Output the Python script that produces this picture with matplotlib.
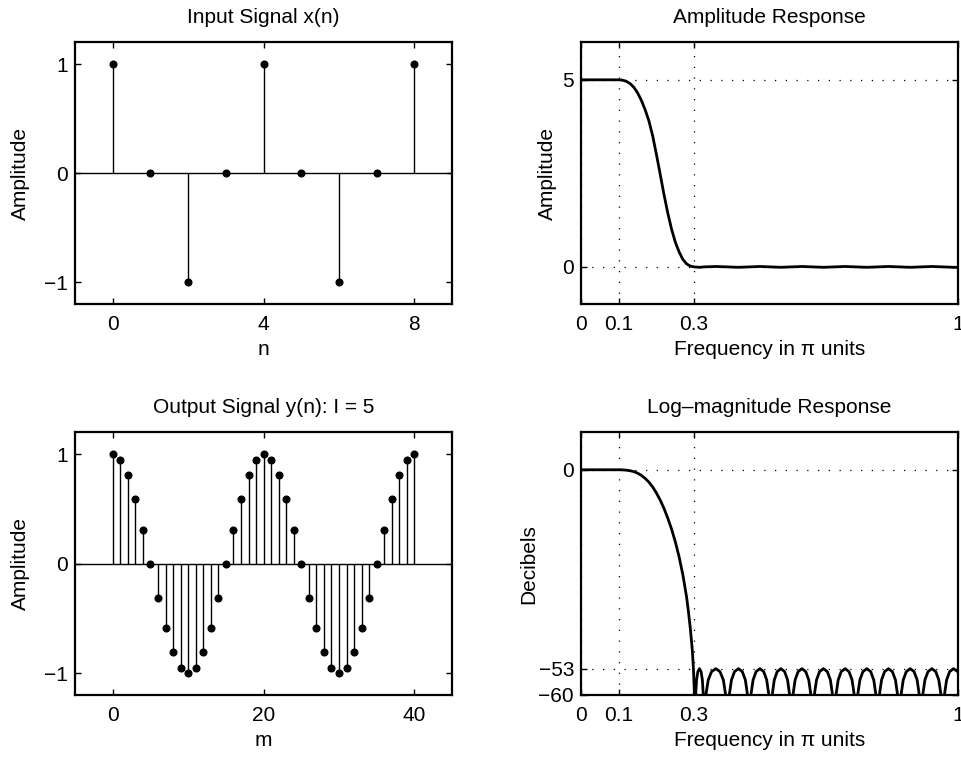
import matplotlib.pyplot as plt

plt.rcParams['font.family'] = ['Liberation Sans', 'DejaVu Sans']
plt.rcParams['font.size'] = 15

# Input signal x(n)
n = list(range(0, 9))
xn = [1, 0, -1, 0, 1, 0, -1, 0, 1]

# Output signal y(m), I = 5
m = list(range(0, 41))
ym = [1, 0.95, 0.81, 0.59, 0.31, 0, -0.31, -0.59, -0.81, -0.95,
      -1, -0.95, -0.81, -0.59, -0.31, 0, 0.31, 0.59, 0.81, 0.95,
      1, 0.95, 0.81, 0.59, 0.31, 0, -0.31, -0.59, -0.81, -0.95,
      -1, -0.95, -0.81, -0.59, -0.31, 0, 0.31, 0.59, 0.81, 0.95, 1]

# Amplitude response
w_amp = [0, 0.05, 0.1, 0.11, 0.12, 0.13, 0.14, 0.15, 0.16, 0.17, 0.18,
         0.19, 0.2, 0.21, 0.22, 0.23, 0.24, 0.25, 0.26, 0.27, 0.28, 0.29,
         0.3, 0.314, 0.326, 0.357, 0.3885, 0.417, 0.446, 0.474, 0.5025,
         0.53, 0.5575, 0.586, 0.614, 0.643, 0.6715, 0.700, 0.729, 0.758,
         0.7865, 0.815, 0.844, 0.873, 0.9015, 0.930, 0.959, 0.988, 1.0]
amp = [5, 5, 5.0, 4.99, 4.96, 4.9, 4.8, 4.65, 4.45, 4.2, 3.9,
       3.5, 3.0, 2.47, 1.93, 1.44, 1.01, 0.66, 0.4, 0.2, 0.08, 0.02,
       0.0, -0.011, 0, 0.011, 0, -0.011, 0, 0.011, 0,
       -0.011, 0, 0.011, 0, -0.011, 0, 0.011, 0, -0.011,
       0, 0.011, 0, -0.011, 0, 0.011, 0, -0.011, -0.01]

# Log-magnitude response in dB (nulls go below the axis)
w_db = [0, 0.05, 0.1, 0.11, 0.12, 0.13, 0.14, 0.15, 0.16, 0.17, 0.18,
        0.19, 0.2, 0.21, 0.22, 0.23, 0.24, 0.25, 0.26, 0.27, 0.28, 0.285,
        0.29, 0.295, 0.298, 0.3, 0.302,
        0.3039, 0.3063, 0.3097, 0.314, 0.3183, 0.3217, 0.3241, 0.326,
        0.331, 0.3373, 0.346, 0.3573, 0.3685, 0.3773, 0.3835, 0.3885,
        0.3931, 0.3989, 0.4069, 0.4173, 0.4276, 0.4357, 0.4414, 0.446,
        0.4505, 0.4562, 0.4641, 0.4743, 0.4844, 0.4923, 0.4980, 0.5025,
        0.5069, 0.5124, 0.5201, 0.5300, 0.5399, 0.5476, 0.5531, 0.5575,
        0.562, 0.5677, 0.5756, 0.5858, 0.5959, 0.6038, 0.6095, 0.614,
        0.6186, 0.6244, 0.6324, 0.6428, 0.6531, 0.6612, 0.6669, 0.6715,
        0.6761, 0.6819, 0.6899, 0.7003, 0.7106, 0.7187, 0.7244, 0.729,
        0.7336, 0.7394, 0.7474, 0.7578, 0.7681, 0.7762, 0.7819, 0.7865,
        0.7911, 0.7969, 0.8049, 0.8153, 0.8256, 0.8337, 0.8394, 0.844,
        0.8486, 0.8544, 0.8624, 0.8728, 0.8831, 0.8912, 0.8969, 0.9015,
        0.9061, 0.9119, 0.9199, 0.9303, 0.9406, 0.9487, 0.9544, 0.959,
        0.9636, 0.9694, 0.9774, 0.9878, 1.0]
db = [0, 0, 0, -0.03, -0.1, -0.25, -0.5, -0.9, -1.5, -2.3, -3.3,
      -4.6, -6.2, -8.1, -10.3, -12.9, -15.8, -19.2, -23.2, -28, -34, -38,
      -42.5, -48, -53, -58, -75,
      -60, -56, -53.8, -53, -53.8, -56, -60, -75,
      -60, -56, -53.8, -53, -53.8, -56, -60, -75,
      -60, -56, -53.8, -53, -53.8, -56, -60, -75,
      -60, -56, -53.8, -53, -53.8, -56, -60, -75,
      -60, -56, -53.8, -53, -53.8, -56, -60, -75,
      -60, -56, -53.8, -53, -53.8, -56, -60, -75,
      -60, -56, -53.8, -53, -53.8, -56, -60, -75,
      -60, -56, -53.8, -53, -53.8, -56, -60, -75,
      -60, -56, -53.8, -53, -53.8, -56, -60, -75,
      -60, -56, -53.8, -53, -53.8, -56, -60, -75,
      -60, -56, -53.8, -53, -53.8, -56, -60, -75,
      -60, -56, -53.8, -53, -53.8, -56, -60, -75,
      -60, -56, -53.8, -53, -53.9]

freq_ticks = [0, 0.1, 0.3, 1]
freq_labels = ['0', '0.1', '0.3', '1']

dotted = (0, (1, 7.6))


def style(ax):
    for s in ax.spines.values():
        s.set_linewidth(1.6)
    ax.tick_params(direction='in', top=True, right=True, length=4,
                   width=1, labelsize=15)
    ax.tick_params(axis='x', pad=8)
    ax.tick_params(axis='y', pad=5)


def stem(ax, x, y):
    ax.axhline(0, color='k', lw=1)
    ax.vlines(x, 0, y, color='k', lw=1)
    ax.plot(x, y, 'ko', ms=4.8)


fig = plt.figure(figsize=(9.62, 7.57), dpi=100)

ax1 = fig.add_axes([0.078, 0.598, 0.392, 0.346])
stem(ax1, n, xn)
ax1.set_xlim(-1, 9)
ax1.set_ylim(-1.2, 1.2)
ax1.set_xticks([0, 4, 8])
ax1.set_yticks([-1, 0, 1])
ax1.set_title('Input Signal x(n)', fontsize=15, pad=14)
ax1.set_xlabel('n')
ax1.set_ylabel('Amplitude', labelpad=10)
style(ax1)

ax2 = fig.add_axes([0.604, 0.598, 0.392, 0.346])
ax2.plot(w_amp, amp, 'k-', lw=2)
ax2.set_xlim(0, 1)
ax2.set_ylim(-1, 6)
ax2.set_xticks(freq_ticks)
ax2.set_xticklabels(freq_labels)
ax2.set_yticks([0, 5])
ax2.grid(True, color='k', ls=dotted, lw=0.9)
ax2.set_title('Amplitude Response', fontsize=15, pad=14)
ax2.set_xlabel('Frequency in π units')
ax2.set_ylabel('Amplitude')
style(ax2)

ax3 = fig.add_axes([0.078, 0.082, 0.392, 0.347])
stem(ax3, m, ym)
ax3.set_xlim(-5, 45)
ax3.set_ylim(-1.2, 1.2)
ax3.set_xticks([0, 20, 40])
ax3.set_yticks([-1, 0, 1])
ax3.set_title('Output Signal y(n): I = 5', fontsize=15, pad=14)
ax3.set_xlabel('m')
ax3.set_ylabel('Amplitude', labelpad=10)
style(ax3)

ax4 = fig.add_axes([0.604, 0.082, 0.392, 0.347])
ax4.plot(w_db, db, 'k-', lw=2)
ax4.set_xlim(0, 1)
ax4.set_ylim(-60, 10)
ax4.set_xticks(freq_ticks)
ax4.set_xticklabels(freq_labels)
ax4.set_yticks([-60, -53, 0])
ax4.grid(True, color='k', ls=dotted, lw=0.9)
ax4.set_title('Log–magnitude Response', fontsize=15, pad=14)
ax4.set_xlabel('Frequency in π units')
ax4.set_ylabel('Decibels', labelpad=0)
style(ax4)

fig.savefig('out.png', dpi=100)
